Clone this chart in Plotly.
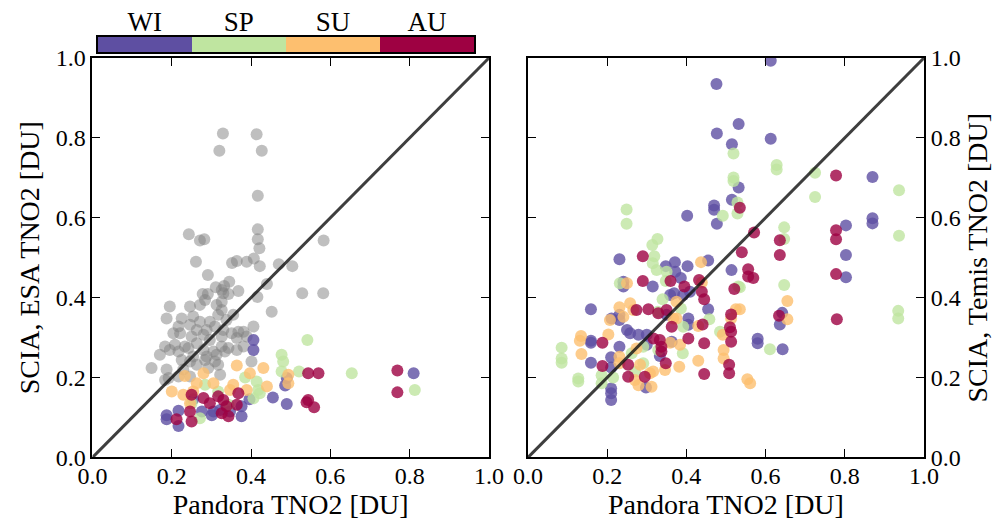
import plotly.graph_objects as go

seasons = ["WI", "SP", "SU", "AU"]
season_colors = ["#5e4fa2", "#bfe5a0", "#fdbf6f", "#9e0142"]
tick_vals = [0.0, 0.2, 0.4, 0.6, 0.8, 1.0]
tick_text = ["0.0", "0.2", "0.4", "0.6", "0.8", "1.0"]
x_title = "Pandora TNO2 [DU]"
y_title_left = "SCIA, ESA TNO2 [DU]"
y_title_right = "SCIA, Temis TNO2 [DU]"

# Left panel: grey reference cloud (Pandora vs ESA, other set)
left_gray = [(0.329,0.811),(0.414,0.809),(0.320,0.768),(0.427,0.768),(0.417,0.655),(0.243,0.559),(0.271,0.543),(0.282,0.546),(0.417,0.571),(0.417,0.546),(0.421,0.524),(0.583,0.543),(0.261,0.490),(0.352,0.487),(0.364,0.492),(0.389,0.490),(0.407,0.498),(0.422,0.479),(0.470,0.484),(0.504,0.479),(0.291,0.457),(0.345,0.440),(0.311,0.426),(0.326,0.419),(0.332,0.429),(0.368,0.417),(0.440,0.434),(0.278,0.409),(0.291,0.409),(0.343,0.409),(0.416,0.402),(0.529,0.411),(0.582,0.411),(0.330,0.411),
    (0.195,0.378),(0.246,0.378),(0.271,0.382),(0.284,0.394),(0.313,0.382),(0.326,0.369),(0.355,0.357),(0.326,0.390),(0.187,0.348),(0.225,0.348),(0.254,0.353),(0.271,0.340),(0.296,0.340),(0.317,0.357),(0.338,0.344),(0.406,0.328),(0.452,0.365),(0.217,0.328),(0.246,0.332),(0.263,0.319),(0.288,0.319),(0.309,0.328),(0.330,0.319),(0.351,0.311),(0.368,0.315),(0.381,0.315),(0.204,0.311),(0.221,0.311),(0.250,0.303),(0.280,0.307),(0.296,0.294),(0.326,0.303),(0.364,0.299),(0.389,0.303),(0.183,0.278),(0.208,0.282),(0.233,0.278),(0.263,0.286),(0.280,0.269),(0.305,0.265),(0.326,0.278),(0.343,0.274),(0.364,0.269),(0.381,0.278),(0.170,0.257),(0.195,0.269),(0.217,0.265),(0.242,0.274),(0.254,0.253),(0.288,0.253),(0.313,0.257),(0.334,0.265),(0.225,0.244),(0.246,0.240),(0.284,0.244),(0.309,0.240),(0.317,0.232),(0.401,0.240),(0.149,0.224),(0.187,0.220),(0.229,0.220),(0.263,0.232),(0.292,0.224),(0.322,0.207),(0.183,0.194),(0.192,0.199),(0.217,0.203),(0.246,0.203)]

left_wi = [(0.406,0.294),(0.406,0.269),(0.490,0.199),(0.486,0.180),(0.455,0.150),(0.490,0.134),(0.376,0.128),(0.187,0.106),(0.187,0.096),(0.217,0.117),(0.217,0.079),(0.254,0.146),(0.276,0.115),(0.305,0.115),(0.301,0.106),(0.347,0.115),(0.376,0.103),(0.396,0.146),(0.322,0.119),(0.810,0.211)]
left_sp = [(0.542,0.294),(0.477,0.257),(0.481,0.240),(0.477,0.215),(0.521,0.215),(0.385,0.200),(0.414,0.190),(0.418,0.169),(0.422,0.161),(0.406,0.148),(0.284,0.182),(0.317,0.165),(0.250,0.136),(0.271,0.098),(0.343,0.132),(0.654,0.211),(0.813,0.169)]
left_su = [(0.233,0.204),(0.280,0.211),(0.364,0.230),(0.397,0.211),(0.431,0.224),(0.494,0.207),(0.494,0.186),(0.200,0.165),(0.229,0.157),(0.263,0.186),(0.305,0.186),(0.355,0.182),(0.440,0.178),(0.254,0.165),(0.347,0.169),(0.389,0.169),(0.246,0.136)]
left_au = [(0.544,0.211),(0.570,0.211),(0.544,0.144),(0.540,0.138),(0.559,0.126),(0.250,0.157),(0.280,0.149),(0.317,0.153),(0.330,0.144),(0.368,0.161),(0.364,0.132),(0.296,0.136),(0.338,0.128),(0.212,0.096),(0.250,0.090),(0.246,0.115),(0.343,0.103),(0.326,0.111),(0.769,0.218),(0.769,0.163)]

right_wi = [(0.476,0.935),(0.532,0.835),(0.477,0.811),(0.515,0.784),(0.532,0.676),(0.515,0.645),(0.470,0.631),(0.470,0.620),(0.402,0.605),(0.477,0.585),(0.613,0.993),(0.613,0.798),(0.870,0.702),(0.870,0.599),(0.870,0.586),(0.803,0.581),(0.803,0.507),(0.803,0.451),(0.642,0.362),(0.636,0.333),(0.580,0.297),(0.580,0.286),(0.643,0.271),
    (0.231,0.496),(0.455,0.493),(0.348,0.479),(0.371,0.489),(0.403,0.479),(0.372,0.465),(0.514,0.469),(0.241,0.440),(0.241,0.428),(0.315,0.428),(0.386,0.449),(0.359,0.407),(0.369,0.411),(0.392,0.407),(0.409,0.415),(0.159,0.371),(0.211,0.348),(0.231,0.357),(0.231,0.344),(0.350,0.357),(0.405,0.348),(0.405,0.332),(0.455,0.371),(0.250,0.319),(0.258,0.311),(0.279,0.307),(0.300,0.307),(0.300,0.282),(0.363,0.290),(0.159,0.292),(0.159,0.287),(0.159,0.237),(0.210,0.251),(0.210,0.225),(0.210,0.173),(0.210,0.161),(0.210,0.144),(0.231,0.277),(0.298,0.175),(0.333,0.254)]
right_sp = [(0.519,0.761),(0.519,0.701),(0.519,0.692),(0.529,0.638),(0.529,0.611),(0.492,0.605),(0.249,0.621),(0.249,0.585),(0.327,0.547),(0.314,0.532),(0.628,0.732),(0.628,0.721),(0.725,0.713),(0.937,0.669),(0.725,0.652),(0.647,0.576),(0.647,0.547),(0.937,0.555),(0.535,0.426),(0.647,0.432),(0.935,0.367),(0.935,0.348),(0.611,0.271),
    (0.319,0.504),(0.315,0.486),(0.350,0.465),(0.325,0.469),(0.232,0.436),(0.348,0.442),(0.531,0.428),(0.340,0.396),(0.386,0.373),(0.328,0.365),(0.392,0.327),(0.458,0.346),(0.485,0.315),(0.291,0.277),(0.262,0.261),(0.329,0.269),(0.391,0.261),(0.085,0.275),(0.085,0.248),(0.085,0.237),(0.127,0.198),(0.127,0.190),(0.186,0.206),(0.186,0.186),(0.215,0.200),(0.270,0.215),(0.291,0.236)]
right_su = [(0.655,0.392),(0.655,0.346),(0.554,0.196),(0.561,0.186),(0.535,0.371),
    (0.437,0.489),(0.250,0.436),(0.439,0.438),(0.375,0.390),(0.231,0.376),(0.258,0.386),(0.266,0.369),(0.241,0.352),(0.207,0.344),(0.367,0.348),(0.375,0.348),(0.430,0.329),(0.525,0.371),(0.513,0.348),(0.492,0.307),(0.494,0.269),(0.494,0.248),(0.430,0.242),(0.382,0.227),(0.346,0.219),(0.274,0.273),(0.359,0.287),(0.384,0.282),(0.134,0.304),(0.131,0.292),(0.135,0.259),(0.203,0.308),(0.231,0.252),(0.231,0.236),(0.270,0.194),(0.279,0.181),(0.283,0.232),(0.308,0.211),(0.316,0.215),(0.312,0.177)]
right_au = [(0.535,0.625),(0.571,0.563),(0.778,0.706),(0.778,0.569),(0.778,0.546),(0.636,0.544),(0.540,0.514),(0.636,0.507),(0.556,0.471),(0.556,0.453),(0.569,0.449),(0.778,0.459),(0.634,0.355),(0.780,0.346),
    (0.290,0.504),(0.290,0.442),(0.360,0.442),(0.395,0.428),(0.432,0.444),(0.439,0.415),(0.445,0.396),(0.521,0.422),(0.274,0.369),(0.304,0.371),(0.329,0.361),(0.350,0.369),(0.363,0.327),(0.441,0.333),(0.513,0.358),(0.510,0.326),(0.513,0.315),(0.513,0.290),(0.508,0.232),(0.508,0.211),(0.445,0.286),(0.445,0.209),(0.348,0.236),(0.317,0.298),(0.333,0.294),(0.337,0.277),(0.337,0.265),(0.405,0.298),(0.188,0.287),(0.188,0.229),(0.253,0.232),(0.253,0.202),(0.295,0.202)]

one_to_one = [0.0, 1.0]

FONT = "Liberation Serif, Times New Roman, Times, serif"
MS = 12

fig = go.Figure()

def add_pts(pts, color, xa, ya, opacity):
    fig.add_trace(go.Scatter(
        x=[p[0] for p in pts], y=[p[1] for p in pts], mode="markers",
        marker=dict(size=MS, color=color, opacity=opacity, line=dict(width=0)),
        xaxis=xa, yaxis=ya, showlegend=False, hoverinfo="x+y"))

add_pts(left_gray, "rgb(128,128,128)", "x", "y", 0.5)
for pts, c in zip([left_wi, left_sp, left_su, left_au], season_colors):
    add_pts(pts, c, "x", "y", 0.8)
for pts, c in zip([right_wi, right_sp, right_su, right_au], season_colors):
    add_pts(pts, c, "x2", "y2", 0.8)

for xa, ya in [("x", "y"), ("x2", "y2")]:
    fig.add_trace(go.Scatter(x=one_to_one, y=one_to_one, mode="lines",
                             line=dict(color="rgba(20,20,20,0.82)", width=3),
                             xaxis=xa, yaxis=ya, showlegend=False, hoverinfo="skip"))

# season colour bar
fig.add_trace(go.Bar(x=seasons, y=[1]*len(seasons), marker=dict(color=season_colors, line=dict(width=0)),
                     xaxis="x3", yaxis="y3", showlegend=False, hoverinfo="x", width=1.0))

tick_font = dict(family=FONT, size=24, color="black")
title_font = dict(family=FONT, size=28, color="black")
cb_font = dict(family=FONT, size=27, color="black")
common = dict(range=[0, 1], tickvals=tick_vals, ticktext=tick_text, ticks="inside", ticklen=8,
              tickwidth=1, tickcolor="black", showline=True, linewidth=2, linecolor="black",
              mirror="ticks", showgrid=False, zeroline=False, tickfont=tick_font, automargin=False)

yd = [0.1202, 0.8885]
fig.update_layout(
    width=1003, height=520, margin=dict(l=0, r=0, t=0, b=0, autoexpand=False),
    paper_bgcolor="white", plot_bgcolor="white", bargap=0,
    font=tick_font,
    xaxis=dict(domain=[0.0922, 0.4875], anchor="y", ticklabelstandoff=-4,
               title=dict(text=x_title, font=title_font, standoff=1), **common),
    yaxis=dict(domain=yd, anchor="x", title=dict(text=y_title_left, font=title_font, standoff=8), **common),
    xaxis2=dict(domain=[0.5264, 0.9212], anchor="y2", ticklabelstandoff=-4,
                title=dict(text=x_title, font=title_font, standoff=1), **common),
    yaxis2=dict(domain=yd, anchor="x2", side="right", title=dict(text=y_title_right, font=title_font, standoff=8), **common),
    xaxis3=dict(domain=[0.0974, 0.4726], anchor="y3", side="top", range=[-0.5, 3.5], ticks="",
                showline=True, linewidth=2, linecolor="black", mirror=True, showgrid=False,
                zeroline=False, tickfont=cb_font, fixedrange=True, automargin=False, ticklabelstandoff=-7),
    yaxis3=dict(domain=[0.8994, 0.9294], anchor="x3", range=[0, 1], showticklabels=False, ticks="",
                showline=True, linewidth=2, linecolor="black", mirror=True, showgrid=False,
                zeroline=False, fixedrange=True, automargin=False),
)

fig.write_html("out.html")
